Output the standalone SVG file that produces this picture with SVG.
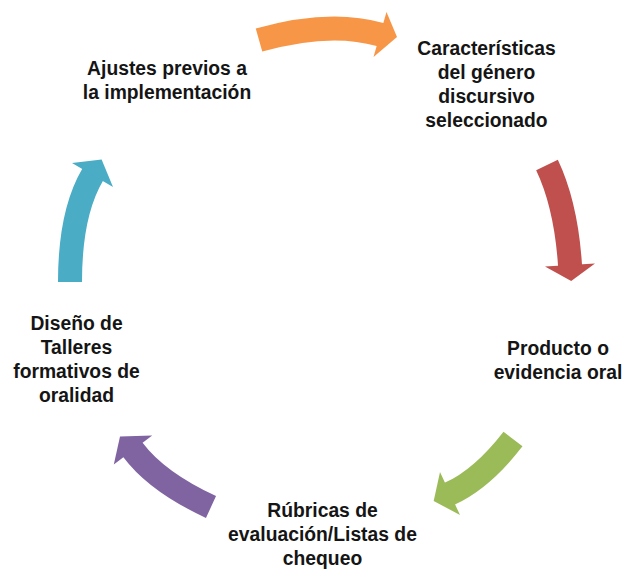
<svg xmlns="http://www.w3.org/2000/svg" width="625" height="569" viewBox="0 0 625 569">
<style>
.lbl{font-family:"Liberation Sans",Arial,sans-serif;font-weight:bold;font-size:21px;fill:#151515;text-anchor:middle}
.band{fill:none;stroke-width:24;stroke-linecap:butt}
</style>
<rect width="625" height="569" fill="#ffffff"/>
<g id="connectors">
  <g id="arrow-orange">
    <path class="band" stroke="#F79646" d="M 259 40 Q 330 20 380 34.5 L 383 35.3"/>
    <polygon fill="#F79646" points="386.5,11.9 397,37 373.5,57.1"/>
  </g>
  <g id="arrow-red">
    <path class="band" stroke="#C0504D" d="M 547 165 Q 566 205 570 265 L 570.2 268"/>
    <polygon fill="#C0504D" points="545,266.6 595,263.4 571.2,281"/>
  </g>
  <g id="arrow-green">
    <path class="band" stroke="#9BBB59" d="M 513 439 Q 482 479 450 493.5 L 447.3 494.8"/>
    <polygon fill="#9BBB59" points="440,472 433.7,501 460,515"/>
  </g>
  <g id="arrow-purple">
    <path class="band" stroke="#8064A2" d="M 211 507 Q 157 482 133 450 L 131.2 447.6"/>
    <polygon fill="#8064A2" points="152.2,435.6 120,436.5 113.8,464.4"/>
  </g>
  <g id="arrow-cyan">
    <path class="band" stroke="#4BACC6" d="M 70 282 Q 70 213.5 92.5 175 L 94 172.4"/>
    <polygon fill="#4BACC6" points="72,163 101.6,159.5 113,187"/>
  </g>
</g>
<g id="node-caracteristicas" transform="translate(486.5,0) scale(0.92,1)">
  <text class="lbl" x="0" y="55">Características</text>
  <text class="lbl" x="0" y="79">del género</text>
  <text class="lbl" x="0" y="103">discursivo</text>
  <text class="lbl" x="0" y="127">seleccionado</text>
</g>
<g id="node-producto" transform="translate(558,0) scale(0.92,1)">
  <text class="lbl" x="0" y="355">Producto o</text>
  <text class="lbl" x="0" y="379">evidencia oral</text>
</g>
<g id="node-rubricas" transform="translate(322.5,0) scale(0.92,1)">
  <text class="lbl" x="0" y="517">Rúbricas de</text>
  <text class="lbl" x="0" y="541">evaluación/Listas de</text>
  <text class="lbl" x="0" y="565">chequeo</text>
</g>
<g id="node-diseno" transform="translate(76.5,0) scale(0.92,1)">
  <text class="lbl" x="0" y="330">Diseño de</text>
  <text class="lbl" x="0" y="354">Talleres</text>
  <text class="lbl" x="0" y="378">formativos de</text>
  <text class="lbl" x="0" y="402">oralidad</text>
</g>
<g id="node-ajustes" transform="translate(167,0) scale(0.92,1)">
  <text class="lbl" x="0" y="75">Ajustes previos a</text>
  <text class="lbl" x="0" y="99">la implementación</text>
</g>
</svg>
